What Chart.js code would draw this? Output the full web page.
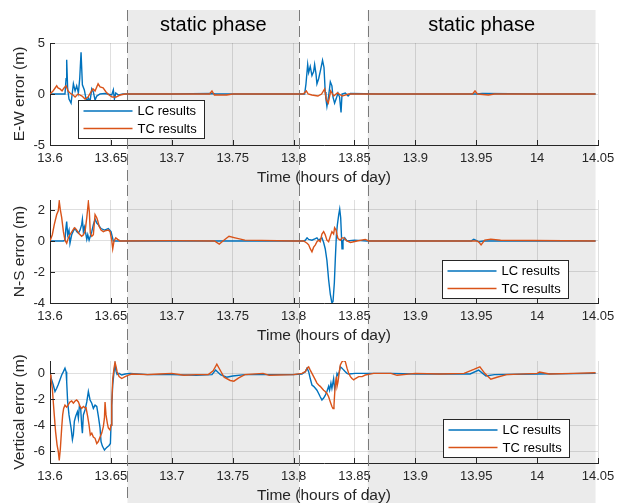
<!DOCTYPE html>
<html>
<head>
<meta charset="utf-8">
<script src="https://cdn.jsdelivr.net/npm/chart.js@4/dist/chart.umd.min.js"></script>
<style>
  html, body { margin: 0; padding: 0; background: #fff; }
  #wrap { position: relative; width: 626px; height: 503px; overflow: hidden; }
  canvas { position: absolute; left: 0; display: block; }
</style>
</head>
<body>
<div id="wrap">
  <canvas id="c1" width="626" height="185" style="top:0px"></canvas>
  <canvas id="c2" width="626" height="158" style="top:185px"></canvas>
  <canvas id="c3" width="626" height="160" style="top:343px"></canvas>
</div>
<script>
// ---------- data (time in hours of day, error in metres) ----------
const xTickValues = [13.6, 13.65, 13.7, 13.75, 13.8, 13.85, 13.9, 13.95, 14, 14.05];
const ewTickValues = [-5, 0, 5];
const nsTickValues = [-4, -2, 0, 2];
const vtTickValues = [-6, -4, -2, 0];
const staticPhaseStart = [13.6636, 13.8609];
const staticPhaseEnd = [13.8047, 14.048];
const staticPhaseLabel = 'static phase';
const seriesNames = ['LC results', 'TC results'];

const ewLC = [[13.6,0],[13.6123,0],[13.6132,1.5],[13.6137,3.35],[13.6145,0.5],[13.6156,-0.5],[13.6173,-0.9],[13.6184,0.2],[13.6192,1.0],[13.6206,0.3],[13.6219,0.8],[13.6233,0.1],[13.6244,1.5],[13.6255,4.1],[13.6266,0.9],[13.6282,0.4],[13.6293,-0.3],[13.6302,-0.7],[13.6315,-0.4],[13.6329,-0.7],[13.6343,0.5],[13.6356,0.2],[13.637,-0.6],[13.6384,-0.2],[13.6411,0],[13.6452,0.05],[13.6507,-0.1],[13.652,0.4],[13.6529,-0.5],[13.654,0.1],[13.6562,-0.1],[13.66,0],[13.7,0],[13.733,0.05],[13.736,0],[13.75,0],[13.78,0],[13.8091,0],[13.8102,1.0],[13.8116,2.9],[13.8124,2.1],[13.8137,2.7],[13.8151,1.8],[13.8165,2.2],[13.8173,2.9],[13.8184,2.0],[13.8192,1.0],[13.8206,1.5],[13.8219,2.2],[13.8238,3.3],[13.825,2.6],[13.826,0.2],[13.8266,-0.5],[13.8274,-1.2],[13.8288,-0.2],[13.8302,1.2],[13.8315,0.8],[13.8324,-0.3],[13.8337,-0.9],[13.8349,-0.5],[13.8365,0.1],[13.8378,-0.3],[13.839,-1.8],[13.8398,0],[13.8425,0.1],[13.8448,-0.2],[13.8467,0.05],[13.87,0],[13.95,0],[13.955,0.05],[14.0,0],[14.048,0]];
const ewTC = [[13.6,0],[13.6025,0.3],[13.6055,0.8],[13.6066,0.6],[13.6082,0.5],[13.6099,0.3],[13.6115,0.6],[13.6132,0.8],[13.6148,0.3],[13.6164,0.1],[13.6189,-0.1],[13.6206,-0.3],[13.623,0],[13.6263,-0.2],[13.6288,-0.5],[13.6312,-0.3],[13.6337,0.2],[13.6353,0.5],[13.637,0.3],[13.6395,1.0],[13.6411,0.7],[13.6436,0.6],[13.646,0.2],[13.6485,-0.1],[13.651,-0.3],[13.6543,-0.3],[13.6575,-0.1],[13.6617,0],[13.7,0],[13.731,0],[13.733,0.3],[13.735,-0.1],[13.745,-0.1],[13.75,0],[13.805,0],[13.808,0],[13.8105,0.3],[13.812,0],[13.815,-0.1],[13.82,-0.2],[13.823,0],[13.8255,0.5],[13.827,-0.6],[13.8285,-0.9],[13.8305,0.3],[13.833,-0.2],[13.836,0.1],[13.84,-0.2],[13.845,0],[13.947,0],[13.949,0.3],[13.951,0],[13.96,-0.1],[13.965,0],[14.048,0]];

const nsLC = [[13.6,0],[13.611,0],[13.6123,0.05],[13.6129,0.7],[13.6137,1.25],[13.6145,0.4],[13.6156,0.7],[13.6164,-0.15],[13.6178,0.4],[13.6192,0.65],[13.6206,0.8],[13.6219,0.6],[13.6233,0.5],[13.6247,0.7],[13.626,1.05],[13.6266,1.4],[13.6274,0.6],[13.6282,0.9],[13.6293,0.5],[13.6302,0.1],[13.631,0.4],[13.6321,0.05],[13.6343,0.6],[13.6356,1.05],[13.637,1.4],[13.6384,1.15],[13.6397,1.05],[13.6419,0.8],[13.6447,0.7],[13.6479,0.8],[13.6501,0.6],[13.652,0],[13.66,0],[13.75,0],[13.8083,0],[13.8097,0.05],[13.8111,0.2],[13.8124,0.1],[13.8151,0.05],[13.8179,0.15],[13.8192,0.2],[13.8206,0.05],[13.8233,0.2],[13.8247,-0.1],[13.826,-0.5],[13.8274,-1.25],[13.8288,-2.5],[13.8302,-3.45],[13.8315,-4.0],[13.8324,-3.9],[13.8335,-2.7],[13.8343,-1.15],[13.8352,0.4],[13.836,1.05],[13.8371,1.7],[13.8379,2.05],[13.8387,1.5],[13.8398,-0.5],[13.8406,0],[13.842,0.2],[13.8439,0],[13.85,0.05],[13.86,0],[13.946,0],[13.948,0.1],[13.952,-0.05],[13.956,0],[14.048,0]];
const nsTC = [[13.6,0],[13.6019,0.4],[13.6035,1.05],[13.6055,1.7],[13.6068,1.95],[13.6076,2.55],[13.6085,2.0],[13.6096,1.5],[13.611,0.6],[13.6123,0.05],[13.6137,-0.15],[13.6151,0.2],[13.6164,0.4],[13.6184,0.65],[13.62,0.85],[13.6214,0.75],[13.6228,0.6],[13.6241,0.45],[13.626,0.3],[13.6274,0.4],[13.6288,0.6],[13.6302,1.5],[13.6315,2.5],[13.6323,1.9],[13.6331,0.5],[13.6343,0.3],[13.6356,0.4],[13.637,1.7],[13.6384,1.5],[13.6392,1.3],[13.6403,0.95],[13.6419,0.7],[13.6438,0.6],[13.6452,0.65],[13.6479,0.7],[13.6493,0.6],[13.6507,0.05],[13.6515,-0.5],[13.6526,0],[13.654,0.2],[13.6556,0.1],[13.6575,0],[13.7,0.02],[13.735,0],[13.739,-0.2],[13.742,0],[13.747,0.3],[13.752,0.2],[13.76,0.05],[13.8,0],[13.8083,0],[13.8111,-0.15],[13.8124,-0.25],[13.8137,-0.5],[13.8151,-0.7],[13.8165,-0.4],[13.8179,-0.25],[13.8192,-0.05],[13.8206,0.05],[13.8219,-0.05],[13.8233,0.45],[13.8247,0.6],[13.826,0.4],[13.8274,0.05],[13.8288,-0.05],[13.8302,0.3],[13.8315,0.6],[13.8329,0.45],[13.8337,0.85],[13.8349,0.7],[13.8357,0.4],[13.8365,0.15],[13.8384,0.05],[13.8398,0.2],[13.8412,0.2],[13.8425,0.1],[13.8439,0],[13.8467,-0.1],[13.8494,-0.05],[13.8521,0],[13.8589,0.1],[13.8617,0],[13.95,0],[13.952,-0.05],[13.954,-0.25],[13.957,0.05],[13.962,0.12],[13.97,0.05],[14.048,0]];

const vtLC = [[13.6,-0.08],[13.6014,-0.5],[13.6027,-0.9],[13.6041,-1.4],[13.6055,-1.15],[13.6068,-0.85],[13.6082,-0.5],[13.6096,-0.13],[13.611,0.13],[13.6123,0.4],[13.6132,0.13],[13.6137,-0.65],[13.6145,-2.2],[13.6156,-3.2],[13.6173,-4.2],[13.6184,-5.1],[13.6192,-4.7],[13.62,-3.7],[13.6211,-3.3],[13.6225,-2.95],[13.6233,-3.45],[13.6241,-2.55],[13.6252,-2.7],[13.626,-4.0],[13.6266,-4.6],[13.6274,-3.2],[13.6288,-2.8],[13.6302,-2.2],[13.6315,-1.4],[13.6329,-2.05],[13.6343,-2.3],[13.6356,-2.7],[13.637,-2.45],[13.6384,-2.55],[13.6397,-3.3],[13.6411,-4.2],[13.6419,-5.25],[13.643,-5.6],[13.6447,-5.9],[13.6466,-5.7],[13.6485,-5.55],[13.6496,-5.4],[13.6501,-4.0],[13.6507,-2.45],[13.6515,-0.9],[13.6526,0.13],[13.6534,0.65],[13.6543,0.13],[13.6551,-0.08],[13.6567,0],[13.6589,-0.13],[13.6617,-0.05],[13.6658,0],[13.68,-0.1],[13.7,-0.1],[13.72,-0.15],[13.733,-0.1],[13.736,0.25],[13.74,-0.1],[13.745,-0.3],[13.75,-0.2],[13.76,-0.1],[13.8,-0.1],[13.8069,-0.05],[13.8097,0.13],[13.8111,0.4],[13.8124,0.13],[13.8137,-0.4],[13.8151,-0.9],[13.8165,-1.0],[13.8179,-1.15],[13.8192,-1.3],[13.8206,-1.55],[13.8219,-1.8],[13.8233,-2.05],[13.8247,-1.9],[13.826,-1.7],[13.8274,-1.4],[13.8288,-1.0],[13.8296,-1.3],[13.8307,-0.75],[13.8315,-1.15],[13.8329,-0.4],[13.8337,-1.15],[13.8349,-0.65],[13.8357,0],[13.8365,-0.13],[13.8376,0.13],[13.8384,0.5],[13.8398,0.4],[13.8412,0.25],[13.8425,0.13],[13.8439,0],[13.8453,-0.05],[13.8508,0],[13.88,0],[13.9,-0.05],[13.945,-0.05],[13.952,0.25],[13.958,-0.2],[13.965,-0.1],[14.0,-0.05],[14.048,0]];
const vtTC = [[13.6,-0.08],[13.6008,-0.4],[13.6019,-1.15],[13.6027,-2.2],[13.6035,-3.2],[13.6046,-4.5],[13.6058,-5.5],[13.6068,-6.0],[13.6076,-6.7],[13.6085,-5.8],[13.6096,-4.2],[13.6104,-3.2],[13.6112,-2.7],[13.6123,-2.45],[13.6137,-2.6],[13.6151,-2.4],[13.6164,-2.2],[13.6178,-2.13],[13.6192,-2.3],[13.6206,-2.13],[13.6219,-2.05],[13.6233,-2.2],[13.6247,-2.55],[13.626,-2.7],[13.6274,-2.55],[13.6288,-2.65],[13.6296,-2.65],[13.631,-3.35],[13.6321,-4.0],[13.6331,-4.75],[13.6343,-4.6],[13.6356,-4.9],[13.637,-5.0],[13.6384,-5.4],[13.6397,-5.25],[13.6411,-4.9],[13.6425,-4.6],[13.6438,-4.1],[13.6447,-3.45],[13.6452,-2.2],[13.646,-3.2],[13.6471,-3.85],[13.6479,-4.2],[13.6493,-4.35],[13.6501,-4.0],[13.6507,-2.45],[13.6515,-0.4],[13.6526,0.4],[13.6534,0.85],[13.6543,0.5],[13.6551,0.13],[13.6567,-0.25],[13.6589,-0.4],[13.6617,-0.25],[13.6644,-0.13],[13.6672,-0.05],[13.68,-0.1],[13.69,-0.05],[13.7,0],[13.71,-0.15],[13.72,-0.1],[13.73,-0.1],[13.734,0.2],[13.737,0.7],[13.74,0.2],[13.743,-0.3],[13.748,-0.55],[13.751,-0.6],[13.755,-0.35],[13.76,-0.1],[13.775,0],[13.78,-0.15],[13.8,-0.1],[13.8069,0],[13.8097,0.13],[13.8111,0.4],[13.8124,0.5],[13.8137,0.25],[13.8151,0],[13.8165,-0.25],[13.8179,-0.5],[13.8192,-0.75],[13.8206,-0.9],[13.8219,-1.0],[13.8233,-1.15],[13.8247,-1.3],[13.826,-1.4],[13.8274,-1.55],[13.8288,-1.8],[13.8302,-2.2],[13.8315,-2.55],[13.8324,-2.7],[13.8332,-2.45],[13.8337,-1.65],[13.8343,-0.9],[13.8352,-0.25],[13.8357,-1.0],[13.8365,-0.65],[13.8376,0.13],[13.8384,0.65],[13.8398,0.9],[13.8412,1.0],[13.8425,0.9],[13.8439,0.4],[13.8453,0],[13.8467,-0.25],[13.848,-0.4],[13.8494,-0.5],[13.8508,-0.4],[13.8535,-0.25],[13.8563,-0.25],[13.8589,-0.13],[13.8617,-0.08],[13.8658,0],[13.88,0],[13.885,-0.15],[13.9,0],[13.92,-0.05],[13.94,0],[13.948,0.3],[13.953,0.5],[13.957,0],[13.962,-0.45],[13.967,-0.3],[13.975,-0.1],[14.0,0],[14.002,0.1],[14.01,-0.05],[14.03,0],[14.048,0.05]];

// ---------- styling ----------
const FONT = '"Liberation Sans", Arial, Helvetica, sans-serif';
const AX = '#262626';
const GRID = 'rgba(38,38,38,0.15)';
const SHADE = '#ebebeb';
const COLORS = ['#0072BD', '#D95319'];
Chart.defaults.font.family = FONT;
Chart.defaults.color = AX;

const toPts = arr => arr.map(p => ({x: p[0], y: p[1]}));

const phasePlugin = {
  id: 'phases',
  beforeDraw(chart, args, o) {
    const {ctx} = chart, xs = chart.scales.x;
    ctx.save();
    ctx.fillStyle = SHADE;
    for (let i = 0; i < staticPhaseStart.length; i++) {
      const a = xs.getPixelForValue(staticPhaseStart[i]);
      const b = xs.getPixelForValue(staticPhaseEnd[i]);
      ctx.fillRect(a, o.shadeTop, b - a, chart.height - o.shadeTop);
    }
    ctx.restore();
  },
  beforeDatasetsDraw(chart, args, o) {
    const {ctx} = chart, xs = chart.scales.x;
    ctx.save();
    ctx.strokeStyle = '#7a7a7a';
    ctx.lineWidth = 1;
    ctx.setLineDash([11, 5]);
    const bounds = [staticPhaseStart[0], staticPhaseEnd[0], staticPhaseStart[1]];
    bounds.forEach(v => {
      const x = Math.round(xs.getPixelForValue(v)) + 0.5;
      ctx.beginPath();
      ctx.moveTo(x, o.shadeTop);
      ctx.lineTo(x, chart.height);
      ctx.stroke();
    });
    ctx.restore();
  },
  afterDraw(chart, args, o) {
    const {ctx, chartArea: ca} = chart, xs = chart.scales.x, ys = chart.scales.y;
    ctx.save();
    // inward tick marks (left and bottom axes)
    ctx.strokeStyle = AX; ctx.lineWidth = 1;
    xTickValues.forEach(v => {
      const x = Math.round(xs.getPixelForValue(v)) + 0.5;
      ctx.beginPath(); ctx.moveTo(x, ca.bottom); ctx.lineTo(x, ca.bottom - 5); ctx.stroke();
    });
    o.yTicks.forEach(v => {
      const y = Math.round(ys.getPixelForValue(v)) + 0.5;
      ctx.beginPath(); ctx.moveTo(ca.left, y); ctx.lineTo(ca.left + 5, y); ctx.stroke();
    });
    // static phase labels
    if (o.labels) {
      ctx.fillStyle = '#000';
      ctx.font = '20px ' + FONT;
      ctx.textAlign = 'center';
      ctx.textBaseline = 'middle';
      for (let i = 0; i < staticPhaseStart.length; i++) {
        const a = xs.getPixelForValue(staticPhaseStart[i]);
        const b = xs.getPixelForValue(staticPhaseEnd[i]);
        ctx.fillText(staticPhaseLabel, (a + b) / 2, 25);
      }
    }
    // legend box
    const w = 126, h = 38;
    let bx, by;
    if (o.legend.corner === 'tl') { bx = ca.left + o.legend.dx; by = ca.top + o.legend.dy; }
    else { bx = ca.right - o.legend.dx - w; by = ca.bottom - o.legend.dy - h; }
    bx = Math.round(bx) + 0.5; by = Math.round(by) + 0.5;
    ctx.fillStyle = '#fff';
    ctx.fillRect(bx, by, w, h);
    ctx.strokeStyle = AX; ctx.lineWidth = 1;
    ctx.strokeRect(bx, by, w, h);
    ctx.font = '13px ' + FONT;
    ctx.textAlign = 'left'; ctx.textBaseline = 'middle';
    seriesNames.forEach((name, i) => {
      const yy = by + 10.5 + i * 17.5;
      ctx.strokeStyle = COLORS[i]; ctx.lineWidth = 1.4;
      ctx.beginPath(); ctx.moveTo(bx + 5, yy); ctx.lineTo(bx + 54, yy); ctx.stroke();
      ctx.fillStyle = '#000';
      ctx.fillText(name, bx + 59, yy + 0.5);
    });
    ctx.restore();
  }
};

function makeChart(id, lc, tc, yTitle, yMin, yMax, yTicks, padTop, shadeTop, labels, legend) {
  return new Chart(document.getElementById(id), {
    type: 'scatter',
    data: {
      datasets: [
        {label: seriesNames[0], data: toPts(lc), borderColor: COLORS[0], backgroundColor: COLORS[0], order: 1},
        {label: seriesNames[1], data: toPts(tc), borderColor: COLORS[1], backgroundColor: COLORS[1], order: 0}
      ]
    },
    options: {
      responsive: false,
      animation: false,
      devicePixelRatio: 1,
      showLine: true,
      elements: {point: {radius: 0, hoverRadius: 0}, line: {borderWidth: 1.4, tension: 0}},
      layout: {padding: {top: padTop, right: 28, bottom: 0, left: 0}},
      plugins: {
        legend: {display: false},
        tooltip: {enabled: false},
        phases: {shadeTop: shadeTop, labels: labels, legend: legend, yTicks: yTicks}
      },
      scales: {
        x: {
          type: 'linear', min: 13.6, max: 14.05,
          afterBuildTicks: s => { s.ticks = xTickValues.map(v => ({value: v})); },
          afterFit: s => { s.height = 40; },
          ticks: {autoSkip: false, maxRotation: 0, padding: 6, color: AX,
                  font: {size: 13}, callback: v => String(+v.toFixed(2))},
          grid: {color: GRID, drawTicks: false},
          border: {display: true, color: AX, width: 1},
          title: {display: true, text: 'Time (hours of day)', color: AX,
                  font: {size: 15.5, lineHeight: 1}, padding: {top: 0, bottom: 0}}
        },
        y: {
          type: 'linear', min: yMin, max: yMax,
          afterBuildTicks: s => { s.ticks = yTicks.map(v => ({value: v})); },
          afterFit: s => { s.width = 50; },
          ticks: {autoSkip: false, padding: 5, color: AX, font: {size: 13},
                  callback: v => String(v)},
          grid: {color: GRID, drawTicks: false},
          border: {display: true, color: AX, width: 1},
          title: {display: true, text: yTitle, color: AX,
                  font: {size: 15.5, lineHeight: 1}, padding: {top: 12, bottom: 0}}
        }
      }
    },
    plugins: [phasePlugin]
  });
}

makeChart('c1', ewLC, ewTC, 'E-W error (m)', -5, 5, ewTickValues, 43, 10, true,
          {corner: 'tl', dx: 28, dy: 57});
makeChart('c2', nsLC, nsTC, 'N-S error (m)', -4, 2.64, nsTickValues, 15, 0, false,
          {corner: 'br', dx: 30, dy: 5});
makeChart('c3', vtLC, vtTC, 'Vertical error (m)', -6.9, 0.95, vtTickValues, 18, 0, false,
          {corner: 'br', dx: 29, dy: 6});
</script>
</body>
</html>
